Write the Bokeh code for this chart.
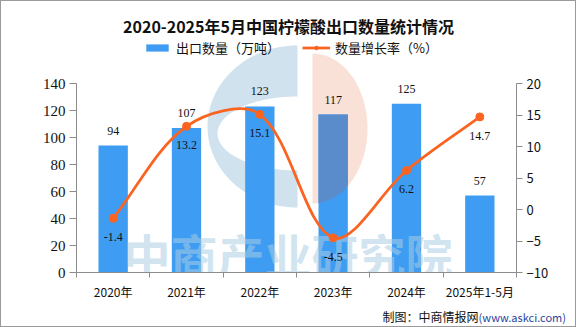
import numpy as np
from bokeh.plotting import figure
from bokeh.layouts import column
from bokeh.models import (Range1d, LinearAxis, FixedTicker, Legend, LegendItem, Label,
                          LabelSet, ColumnDataSource, PolyAnnotation, Div)
from bokeh.core.properties import value
from bokeh.embed import file_html
from bokeh.resources import INLINE

# ---------------- data ----------------
categories = ["2020年", "2021年", "2022年", "2023年", "2024年", "2025年1-5月"]
export_volume = [94, 107, 123, 117, 125, 57]          # 万吨
growth_rate = [-1.4, 13.2, 15.1, -4.5, 6.2, 14.7]      # %
left_ticks = [0, 20, 40, 60, 80, 100, 120, 140]
right_ticks = [-10, -5, 0, 5, 10, 15, 20]

title_text = "2020-2025年5月中国柠檬酸出口数量统计情况"
legend_bar = "出口数量（万吨）"
legend_line = "数量增长率（%）"
source_text = "制图：中商情报网"
source_url = "(www.askci.com)"
watermark = "中商产业研究院"

# ---------------- styling / layout ----------------
BAR = "#3e9df2"
LINE = "#fa6420"
AXIS = "#8c8c8c"
FONT = "Noto Sans CJK SC"

PW, PH = 574, 305          # figure size (page has 1px border around)
FL, FR, FT, FB = 76, 516, 83, 272   # page px: frame left/right, y of 140 and 0
n = len(categories)
LMAX, RMIN, RMAX = 140.0, -10.0, 20.0
top_page = 1  # frame top in page px
y_top_left = LMAX * (FB - top_page) / (FB - FT)
y_top_right = RMIN + (RMAX - RMIN) * (FB - top_page) / (FB - FT)

def dx(sx):
    return (sx - FL) / (FR - FL) * n

def dy(sy):
    return (FB - sy) / (FB - FT) * LMAX

p = figure(width=PW, height=PH, x_range=Range1d(0, n), y_range=Range1d(0, y_top_left),
           output_backend="svg", toolbar_location=None,
           x_axis_location=None, y_axis_location=None,
           min_border_left=FL - 1, min_border_right=PW - (FR - 1),
           min_border_top=0, min_border_bottom=PH - (FB - 1))
p.extra_y_ranges = {"rate": Range1d(RMIN, y_top_right)}
p.xgrid.visible = False
p.ygrid.visible = False
p.outline_line_color = None
p.background_fill_color = "white"
p.border_fill_color = "white"

xc = [i + 0.5 for i in range(n)]
src = ColumnDataSource(dict(x=xc, vol=export_volume, rate=growth_rate,
                            vol_txt=[str(v) for v in export_volume],
                            rate_txt=[str(v) for v in growth_rate]))

# ---------------- watermark logo (under bars) ----------------
def half_ellipse(cx, cy, rx, ry, a0, a1, m=60):
    t = np.linspace(np.radians(a0), np.radians(a1), m)
    return cx + rx * np.cos(t), cy - ry * np.sin(t)

ox, oy = half_ellipse(297, 126, 90, 81, 90, 270)
ix, iy = half_ellipse(297, 133, 80, 37, 270, 90)
cxs = np.concatenate([ox, ix])
cys = np.concatenate([oy, iy])
p.add_layout(PolyAnnotation(xs=[dx(v) for v in cxs], ys=[dy(v) for v in cys],
                            fill_color="#d0e2ee", fill_alpha=1, line_color=None,
                            level="underlay"))
px_, py_ = half_ellipse(312, 128, 55, 75, 90, -90)
p.add_layout(PolyAnnotation(xs=[dx(v) for v in px_], ys=[dy(v) for v in py_],
                            fill_color="#fae1d7", fill_alpha=1, line_color=None,
                            level="underlay"))

# ---------------- bars ----------------
bars = p.vbar(x="x", top="vol", width=0.4, source=src, fill_color=BAR, line_color=None)

# darker overlap where the peach disc covers the 2023 bar
bi = 3
bl, br = xc[bi] - 0.2, xc[bi] + 0.2
sxs = np.linspace(FL + bl / n * (FR - FL), FL + br / n * (FR - FL), 30)
bar_top_sy = FB - export_volume[bi] / LMAX * (FB - FT)
u = np.clip((sxs - 312) / 55.0, -1, 1)
ell_bot = 128 + 75 * np.sqrt(1 - u ** 2)
ell_top = 128 - 75 * np.sqrt(1 - u ** 2)
top_edge = np.maximum(ell_top, bar_top_sy)
ovx = list(sxs) + list(sxs[::-1])
ovy = list(top_edge) + list(ell_bot[::-1])
p.patch(x=[dx(v) for v in ovx], y=[dy(v) for v in ovy], fill_color="#5a8ccb",
        line_color=None)

# watermark text over bars
p.text(x=[dx(287.5)], y=[dy(253)], text=[watermark], text_font=value(FONT),
       text_font_style="bold", text_font_size="47px", text_color="#aacde4",
       text_alpha=0.55, text_align="center", text_baseline="middle")

# ---------------- smooth line (computed in screen space) ----------------
spx = [FL + x / n * (FR - FL) for x in xc]
spy = [FB - (r - RMIN) / (RMAX - RMIN) * (FB - FT) for r in growth_rate]
T = 1.0 / 3.0
def ctrl(i):
    a = max(i - 1, 0)
    b = min(i + 1, n - 1)
    vx, vy = spx[b] - spx[a], spy[b] - spy[a]
    d0 = np.hypot(spx[i] - spx[a], spy[i] - spy[a])
    d1 = np.hypot(spx[b] - spx[i], spy[b] - spy[i])
    s = d0 + d1
    fin = T * d0 / s
    fout = T * d1 / s
    return (spx[i] - vx * fin, spy[i] - vy * fin), (spx[i] + vx * fout, spy[i] + vy * fout)

def rdy(sy):
    return RMIN + (FB - sy) / (FB - FT) * (RMAX - RMIN)

x0, y0, x1, y1, c0x, c0y, c1x, c1y = [], [], [], [], [], [], [], []
for i in range(n - 1):
    _, out_c = ctrl(i)
    in_c, _ = ctrl(i + 1)
    x0.append(xc[i]); y0.append(growth_rate[i])
    x1.append(xc[i + 1]); y1.append(growth_rate[i + 1])
    c0x.append(dx(out_c[0])); c0y.append(rdy(out_c[1]))
    c1x.append(dx(in_c[0])); c1y.append(rdy(in_c[1]))
p.bezier(x0=x0, y0=y0, x1=x1, y1=y1, cx0=c0x, cy0=c0y, cx1=c1x, cy1=c1y,
         line_color=LINE, line_width=2.75, y_range_name="rate")
# legend-only line (a single NaN point, nothing drawn in the plot)
legline = p.line(x=[np.nan], y=[np.nan], line_color=LINE, line_width=2.75,
                 y_range_name="rate")
dots = p.scatter(x="x", y="rate", source=src, size=8, fill_color=LINE,
                 line_color=LINE, y_range_name="rate")

# ---------------- data labels ----------------
p.add_layout(LabelSet(x="x", y="vol", text="vol_txt", source=src, y_offset=15,
                      text_align="center", text_baseline="middle",
                      text_font=FONT, text_font_size="12px", text_color="#111111"))
p.add_layout(LabelSet(x="x", y="rate", text="rate_txt", source=src, y_offset=-19,
                      y_range_name="rate", text_align="center", text_baseline="middle",
                      text_font=FONT, text_font_size="12px", text_color="#111111"))

# ---------------- axes ----------------
xaxis = LinearAxis(ticker=FixedTicker(ticks=xc, minor_ticks=list(range(n + 1))),
                   major_label_overrides={xc[i]: categories[i] for i in range(n)})
xaxis.axis_line_color = AXIS
xaxis.major_tick_line_color = None
xaxis.major_tick_out = 5
xaxis.major_tick_in = 0
xaxis.minor_tick_line_color = AXIS
xaxis.minor_tick_out = 5
xaxis.minor_tick_in = 0
xaxis.major_label_standoff = 5
xaxis.major_label_text_font = FONT
xaxis.major_label_text_font_size = "12px"
xaxis.major_label_text_color = "#111111"
p.add_layout(xaxis, "below")

laxis = LinearAxis(ticker=FixedTicker(ticks=left_ticks, minor_ticks=[]), bounds=(0, LMAX))
laxis.axis_line_color = AXIS
laxis.major_tick_line_color = AXIS
laxis.major_tick_out = 7
laxis.major_tick_in = 0
laxis.minor_tick_line_color = None
laxis.major_label_standoff = 4
laxis.major_label_text_font = "Liberation Serif"
laxis.major_label_text_font_size = "15px"
laxis.major_label_text_color = "#111111"
p.add_layout(laxis, "left")

raxis = LinearAxis(y_range_name="rate", ticker=FixedTicker(ticks=right_ticks, minor_ticks=[]),
                   bounds=(RMIN, RMAX))
raxis.axis_line_color = AXIS
raxis.major_tick_line_color = AXIS
raxis.major_tick_out = 6
raxis.major_tick_in = 0
raxis.minor_tick_line_color = None
raxis.major_label_standoff = 4
raxis.major_label_text_font = FONT
raxis.major_label_text_font_size = "13px"
raxis.major_label_text_color = "#111111"
p.add_layout(raxis, "right")

# ---------------- legend ----------------
legend = Legend(items=[LegendItem(label=legend_bar, renderers=[bars]),
                       LegendItem(label=legend_line, renderers=[legline, dots])],
                orientation="horizontal", location=(143 - FL, FB - 57),
                glyph_width=28, glyph_height=9, spacing=22, label_standoff=5,
                padding=0, margin=0, background_fill_alpha=0, border_line_color=None,
                label_text_font=FONT, label_text_font_size="13px",
                label_text_color="#111111")
p.add_layout(legend)

# ---------------- title ----------------
p.add_layout(Label(x=dx(288), y=dy(25), text=title_text, text_align="center",
                   text_baseline="middle", text_font=FONT, text_font_size="16px",
                   text_font_style="bold", text_color="#111111"))

# ---------------- source line ----------------
src_div = Div(text=('<div style="width:565px;text-align:right;'
                    'font-family:\'Noto Sans CJK SC\';'
                    'font-size:12px;line-height:22px;color:#111;'
                    'white-space:nowrap;">' + source_text +
                    '<span style="color:#27449c;font-size:11px;">' + source_url +
                    '</span></div>'),
              width=PW, height=327 - 2 - PH, margin=0)

page = column(p, src_div, spacing=0,
              styles={"border": "1px solid #9a9a9a", "background-color": "white"})

open("out.html", "w").write(file_html(page, INLINE))
